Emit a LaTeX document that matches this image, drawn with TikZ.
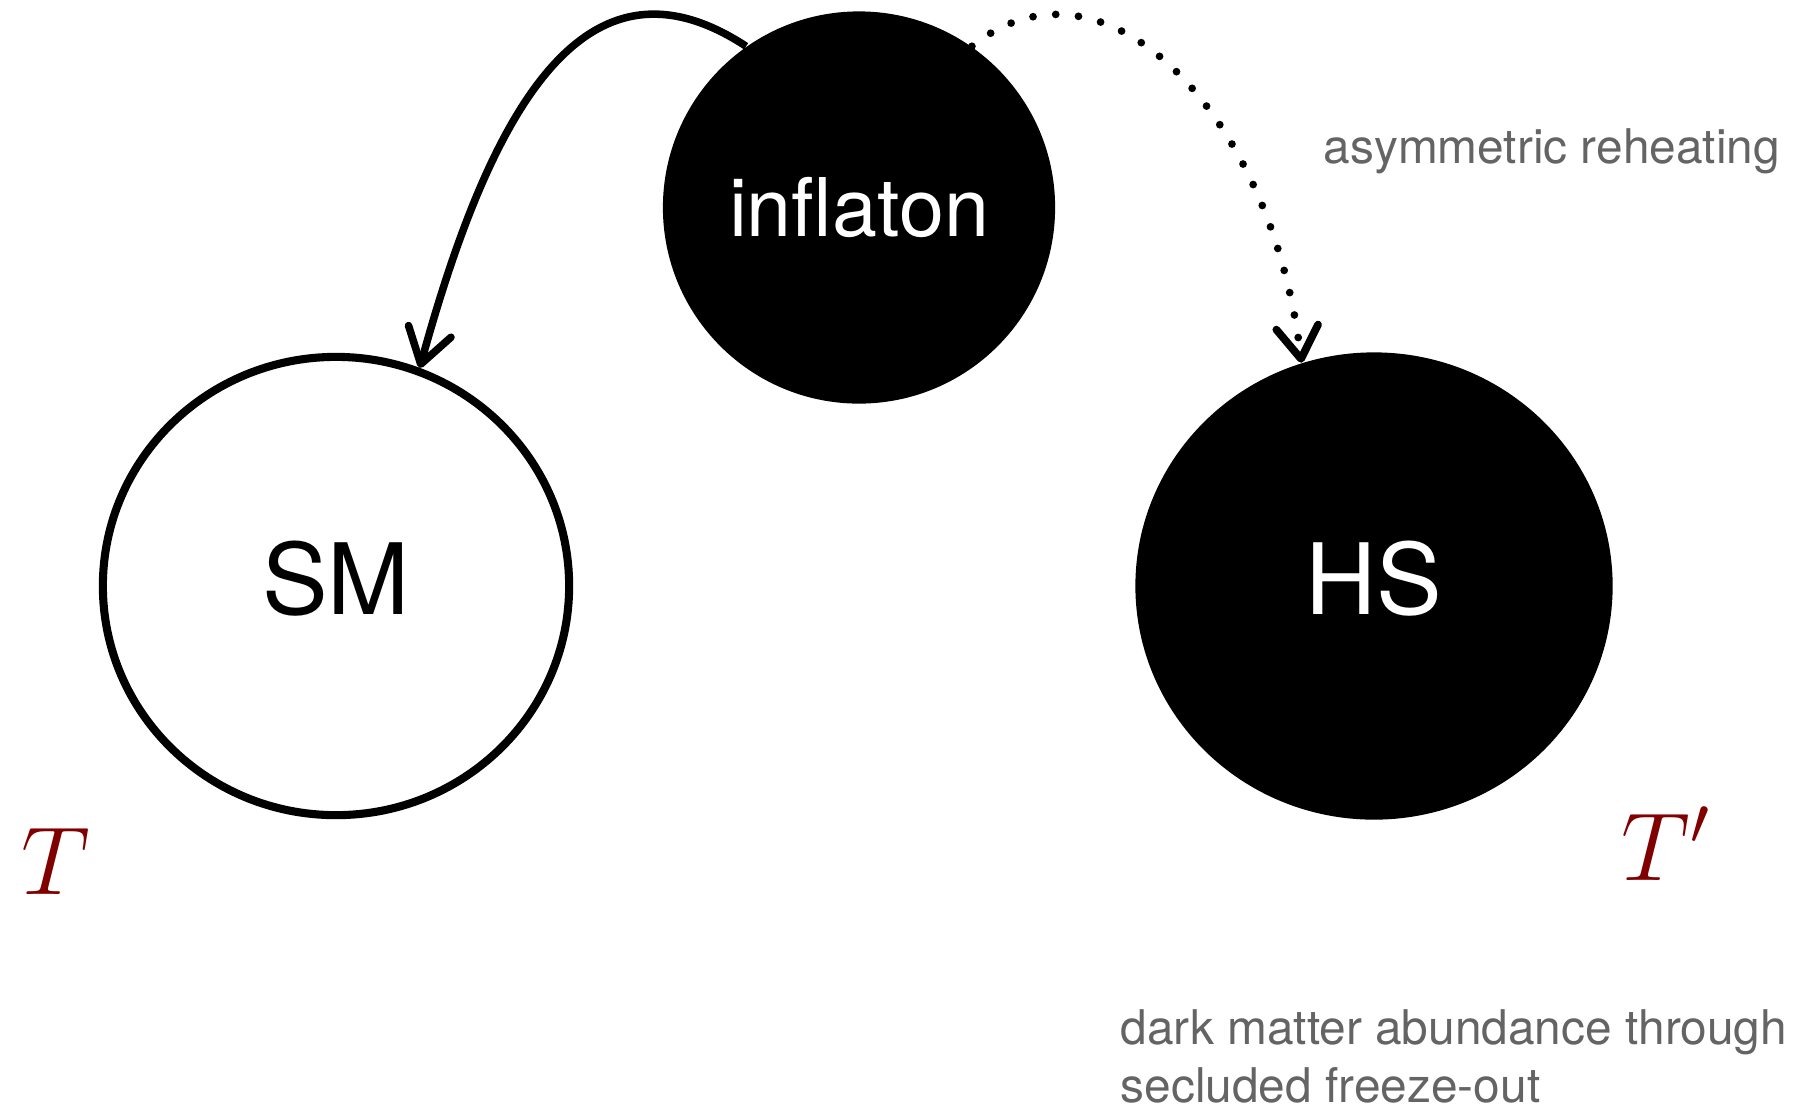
\RequirePackage{fix-cm}
\documentclass[tikz,border=0pt]{standalone}
\usepackage{fontspec}
\setmainfont{TeX Gyre Heros}
\usepackage{tikz}
\usetikzlibrary{shapes, arrows.meta, positioning, calc}
\definecolor{tempred}{RGB}{128,0,0}
\definecolor{notegray}{RGB}{100,100,100}
\tikzset{x=0.01cm, y=-0.01cm, % one unit = one pixel of the sketch
    sector/.style={ % visible sector
    ellipse,
    draw=black,
    line width=2.3pt,
    text depth=0.16cm,
    font=\fontsize{28}{32}\selectfont},
    darksector/.style={ % hidden sector, filled
    ellipse,
    fill=black,
    text=white,
    text depth=0.16cm,
    font=\fontsize{28}{32}\selectfont},
    remark/.style={
    text=notegray,
    inner sep=0pt,
    align=left,
    font=\fontsize{13.6}{16.5}\selectfont},
    temp/.style={
    text=tempred,
    inner sep=0pt,
    font=\fontsize{27.5}{31}\selectfont},
    decay/.style={ % reheating arrow
    line width=2.15pt,
    -{Straight Barb[length=0.34cm,width=0.44cm,round]}},
    darkdecay/.style={
    line width=2.2pt,
    line cap=round,
    dash pattern=on 0pt off 6.5pt,
    -{Straight Barb[length=0.32cm,width=0.42cm,round]}}}

\begin{document}
\begin{tikzpicture}
    \useasboundingbox (0, 0) rectangle (1798, 1108);

    % Sectors
    \node[circle, fill=black, text=white, minimum size=3.92cm,
        font=\fontsize{23}{27}\selectfont] (infl) at (859, 207.5) {inflaton};
    \node[sector, minimum width=4.66cm, minimum height=4.58cm] (SM) at (336, 586) {SM};
    \node[darksector, minimum width=4.77cm, minimum height=4.67cm] (HS) at (1374, 586) {HS};

    % Reheating
    \draw[decay] (infl.125) .. controls +(-160, -105) and +(72, -262) .. (SM.69);
    \draw[darkdecay] (infl.55) .. controls +(132, -106) and +(-30, -250) .. (HS.108);

    % Temperatures
    \node[temp, anchor=base west] (TSM) at (21, 894) {$T$};
    \node[temp, anchor=base west] (THS) at (1621, 880) {$T'$};

    % Notes
    \node[remark, anchor=base west] (reheat) at (1323, 163) {asymmetric reheating};
    \node[remark, anchor=base west] (freeze) at (1120, 1102)
        {dark matter abundance through\\secluded freeze-out};
\end{tikzpicture}
\end{document}
